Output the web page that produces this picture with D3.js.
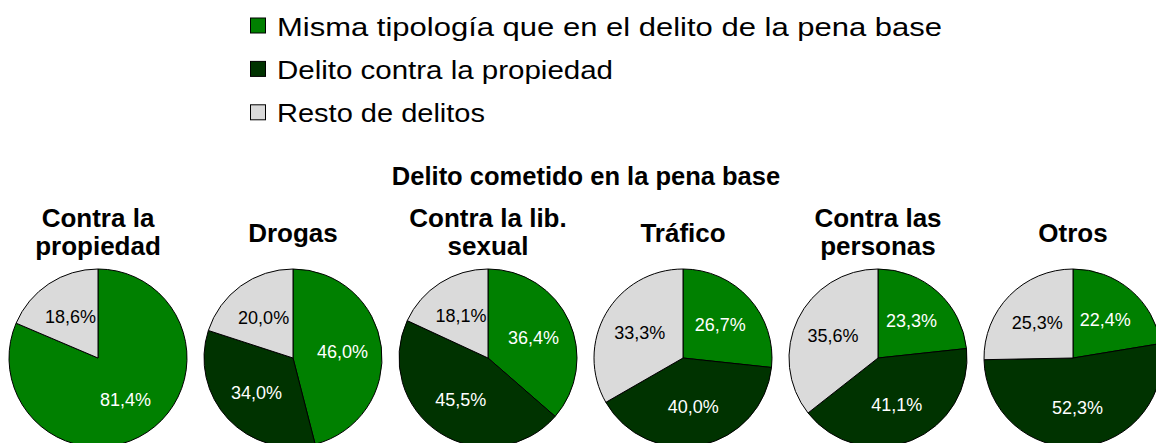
<!DOCTYPE html>
<html>
<head>
<meta charset="utf-8">
<script src="https://cdn.jsdelivr.net/npm/d3@7"></script>
<style>
  html, body { margin: 0; padding: 0; background: #ffffff; }
  svg { display: block; }
  text { font-family: "Liberation Sans", Arial, Helvetica, sans-serif; }
</style>
</head>
<body>
<svg id="chart" width="1156" height="443"></svg>
<script>
// ---- Data ----
const seriesNames = [
  "Misma tipología que en el delito de la pena base",
  "Delito contra la propiedad",
  "Resto de delitos"
];
const seriesColors = ["#008000", "#003300", "#DADADA"];
const labelColors = ["#ffffff", "#ffffff", "#000000"];

const categories = [
  ["Contra la", "propiedad"],
  ["Drogas"],
  ["Contra la lib.", "sexual"],
  ["Tráfico"],
  ["Contra las", "personas"],
  ["Otros"]
];
const mismaTipologia = [81.4, 46.0, 36.4, 26.7, 23.3, 22.4];
const contraPropiedad = [0, 34.0, 45.5, 40.0, 41.1, 52.3];
const restoDelitos = [18.6, 20.0, 18.1, 33.3, 35.6, 25.3];
const groupTitle = "Delito cometido en la pena base";

// ---- Layout ----
const svg = d3.select("#chart");
const W = 1156;
const radius = 89;
const cy = 358;

const x = d3.scalePoint()
  .domain(d3.range(categories.length))
  .range([98, 1073]);

// Legend
const legendTargets = [665, 336, 208];
const legend = svg.append("g");
seriesNames.forEach((name, i) => {
  const base = 35.5 + i * 43.4;
  legend.append("rect")
    .attr("x", 250.5).attr("y", base - 17.5)
    .attr("width", 15).attr("height", 15)
    .attr("fill", seriesColors[i])
    .attr("stroke", "#000").attr("stroke-width", 1);
  legend.append("text")
    .attr("x", 277).attr("y", base)
    .attr("font-size", 25)
    .attr("textLength", legendTargets[i])
    .attr("lengthAdjust", "spacingAndGlyphs")
    .attr("fill", "#000")
    .text(name);
});

// Group title
svg.append("text")
  .attr("x", 586).attr("y", 185)
  .attr("text-anchor", "middle")
  .attr("font-size", 25.5)
  .attr("font-weight", "bold")
  .text(groupTitle);

const pie = d3.pie().sort(null).value(d => d.v);
const arc = d3.arc().innerRadius(0).outerRadius(radius);
const labelArc = d3.arc().innerRadius(50).outerRadius(50);
const fmt = v => d3.format(".1f")(v).replace(".", ",") + "%";

categories.forEach((cat, i) => {
  const g = svg.append("g").attr("transform", `translate(${x(i)},${cy})`);
  const data = [
    { s: 0, v: mismaTipologia[i] },
    { s: 1, v: contraPropiedad[i] },
    { s: 2, v: restoDelitos[i] }
  ];
  const arcs = pie(data);
  g.selectAll("path")
    .data(arcs.filter(a => a.data.v > 0))
    .enter().append("path")
    .attr("d", arc)
    .attr("fill", a => seriesColors[a.data.s])
    .attr("stroke", "#000")
    .attr("stroke-width", 1)
    .attr("stroke-linejoin", "round");
  g.selectAll("text.lbl")
    .data(arcs.filter(a => a.data.v > 0))
    .enter().append("text")
    .attr("class", "lbl")
    .attr("transform", a => `translate(${labelArc.centroid(a)})`)
    .attr("text-anchor", "middle")
    .attr("dy", "0.35em")
    .attr("font-size", 18)
    .attr("fill", a => labelColors[a.data.s])
    .text(a => fmt(a.data.v));

  // title
  const t = svg.append("text")
    .attr("text-anchor", "middle")
    .attr("font-size", 26)
    .attr("font-weight", "bold");
  if (cat.length === 2) {
    t.append("tspan").attr("x", x(i)).attr("y", 226.5).text(cat[0]);
    t.append("tspan").attr("x", x(i)).attr("y", 255).text(cat[1]);
  } else {
    t.append("tspan").attr("x", x(i)).attr("y", 241.5).text(cat[0]);
  }
});
</script>
</body>
</html>
